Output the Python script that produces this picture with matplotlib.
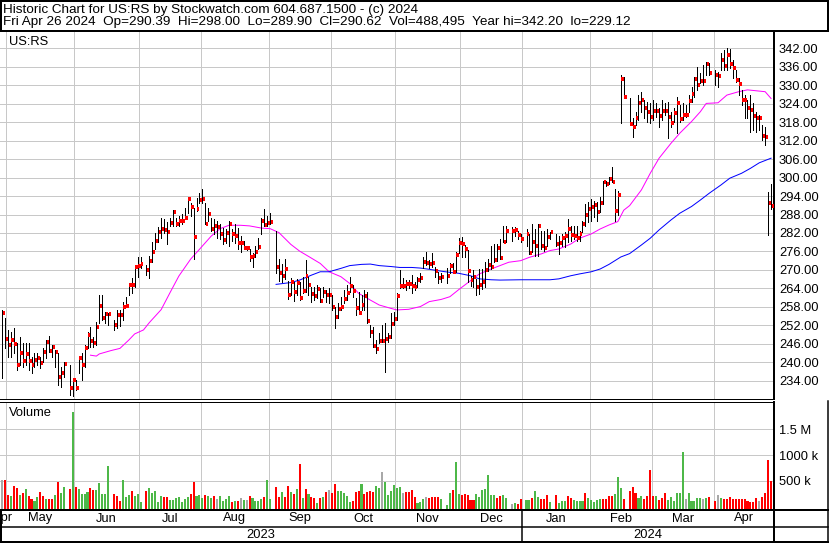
import numpy as np
import pandas as pd
import matplotlib
matplotlib.use("Agg")
import matplotlib.pyplot as plt
from matplotlib.lines import Line2D

plt.rcParams['font.family'] = ['Liberation Sans', 'DejaVu Sans']
plt.rcParams['font.size'] = 9.3

# ---- data ----
holidays = ['2023-05-29', '2023-06-19', '2023-07-04', '2023-09-04', '2023-11-23',
            '2023-12-25', '2024-01-01', '2024-01-15', '2024-02-19', '2024-03-29']

highs = [
    257.0, 254.3,
    250.5, 249.9, 251.0, 246.1, 248.3, 246.1, 246.1, 246.1, 241.8, 242.9, 242.9, 241.8, 244.5, 247.2, 248.5, 245.6,
    243.9, 242.9, 238.6, 240.2, 239.1, 234.8,
    234.2, 242.0, 242.9, 245.6, 249.9, 251.5, 248.3, 253.2, 261.8, 261.8, 256.4, 255.9, 253.7, 257.0, 257.0, 259.7,
    261.3, 265.6, 267.3, 271.3, 274.1,
    274.1, 271.6, 274.5, 279.1, 282.1, 284.0, 287.0, 286.5, 285.6, 287.0, 289.5, 287.0, 287.5, 288.1, 290.2, 293.5,
    291.9, 290.2, 293.5, 295.1,
    296.2, 291.9, 290.2, 287.0, 286.5, 285.9, 284.8, 283.7, 283.2, 285.9, 283.2, 284.8, 283.7, 281.0, 279.4, 277.8,
    276.7, 275.6, 277.8, 280.5, 287.0, 289.7, 287.5,
    288.6, 282.7, 273.5, 272.0, 273.7, 266.5, 267.5, 266.0, 267.0, 266.2, 267.8, 273.2, 267.8, 264.6, 264.6, 265.1,
    264.0, 264.6, 263.5, 264.0,
    261.9, 258.1, 259.2, 261.3, 263.5, 265.1, 267.8, 265.1, 260.8, 262.9, 261.9, 263.5, 262.9, 252.1, 251.6, 247.2,
    249.4, 252.1, 252.6, 249.4, 255.9, 256.4,
    262.4, 270.0, 267.3, 266.7, 266.7, 268.4, 266.2, 267.8, 268.9, 274.3, 275.9, 273.2, 275.4, 271.1, 269.4, 268.9,
    270.5, 272.1, 272.1, 275.9, 280.3,
    280.8, 278.1, 276.5, 268.1, 270.0, 267.0, 270.3, 270.3, 272.5, 273.6, 277.9, 278.4, 278.4, 280.1, 284.4, 284.4,
    283.8, 283.8, 282.8, 281.7,
    283.3, 281.7, 284.9, 283.3, 284.9, 282.8, 282.8, 283.3, 282.2, 281.7, 281.1, 281.7, 282.2, 286.6, 284.4, 284.4,
    284.4, 282.8, 286.0, 291.4, 292.0,
    293.1, 292.5, 292.0, 293.6, 299.0, 299.0, 300.1, 303.3, 296.3, 295.6, 333.3, 332.8, 325.7, 319.2, 321.4, 326.8,
    327.9, 325.2, 324.7, 324.1,
    325.2, 324.1, 322.5, 325.2, 324.1, 324.7, 321.4, 322.5, 326.3, 323.6, 324.1, 323.6, 326.8, 329.5, 332.8, 336.0,
    333.9, 336.6, 337.7, 337.1,
    335.0, 334.4, 340.4, 341.5, 342.2, 341.8, 338.2, 335.0, 332.2, 328.5, 326.8, 325.2, 326.8, 324.1, 321.4, 320.3,
    317.1, 316.5, 295.4, 298.0,
]
lows = [
    235.0, 244.5,
    241.8, 241.8, 242.9, 237.5, 239.1, 238.6, 239.1, 237.5, 236.6, 238.6, 239.1, 238.0, 240.2, 241.3, 243.4, 241.8,
    238.6, 232.6, 232.1, 235.3, 229.4, 229.12,
    231.0, 236.4, 234.2, 238.6, 244.5, 245.1, 245.1, 245.6, 252.6, 253.7, 252.6, 252.1, 250.5, 251.0, 251.8, 253.7,
    258.0, 261.8, 262.4, 264.5, 267.8,
    270.5, 268.3, 267.3, 272.6, 276.7, 279.2, 280.5, 282.1, 278.3, 284.3, 284.3, 284.3, 284.3, 284.8, 286.5, 288.6,
    287.5, 273.5, 289.2, 291.9,
    291.9, 284.8, 285.9, 282.7, 281.6, 280.5, 280.0, 278.3, 278.9, 277.8, 279.4, 278.9, 276.7, 275.8, 276.7, 276.5,
    272.9, 271.1, 274.3, 276.7, 281.6, 284.3, 284.3,
    284.8, 269.1, 266.4, 266.0, 267.0, 260.6, 262.0, 260.0, 262.0, 260.2, 262.4, 262.9, 261.9, 259.7, 260.2, 260.8,
    259.7, 261.3, 259.7, 259.2,
    257.0, 251.0, 254.5, 257.0, 259.2, 260.2, 262.9, 261.3, 255.4, 255.9, 257.0, 257.0, 252.6, 248.3, 245.1, 242.9,
    246.1, 246.5, 236.9, 246.7, 247.8, 252.1,
    253.7, 264.0, 264.0, 263.5, 264.0, 262.4, 263.5, 264.6, 266.2, 270.5, 271.6, 270.5, 271.1, 267.8, 265.6, 266.2,
    265.6, 268.9, 268.9, 269.4, 275.4,
    274.3, 274.3, 266.0, 264.9, 264.5, 262.0, 262.2, 263.8, 264.4, 269.8, 270.3, 272.5, 273.0, 273.6, 279.0, 279.0,
    279.5, 281.1, 280.1, 279.0,
    277.9, 275.2, 275.7, 274.6, 274.6, 276.8, 276.3, 277.9, 280.1, 277.9, 275.2, 277.9, 277.4, 279.0, 279.5, 280.1,
    279.5, 279.5, 282.2, 284.4, 285.5,
    286.0, 287.1, 286.0, 288.7, 291.4, 297.4, 297.9, 298.5, 286.0, 288.0, 317.8, 326.0, 317.0, 313.3, 317.1, 318.7,
    321.4, 319.3, 318.2, 317.6,
    318.7, 319.8, 316.5, 318.7, 320.3, 312.8, 316.5, 318.2, 314.4, 318.2, 318.7, 319.8, 321.4, 324.7, 326.3, 328.5,
    330.6, 330.1, 333.3, 333.3,
    330.1, 329.5, 335.0, 335.0, 335.0, 335.5, 332.2, 331.2, 326.8, 323.6, 319.3, 319.3, 314.9, 315.5, 314.9, 315.5,
    312.2, 310.6, 281.4, 289.9,
]
closes = [
    256.1, 247.6,
    245.7, 247.2, 245.9, 239.2, 243.1, 240.5, 242.7, 240.5, 239.2, 240.7, 241.4, 239.9, 243.3, 246.6, 243.8, 245.1,
    243.3, 235.3, 236.4, 239.4, 231.6, 234.2,
    231.6, 241.4, 239.1, 244.6, 248.9, 247.0, 246.3, 251.6, 258.3, 254.4, 255.7, 255.7, 252.2, 255.5, 255.5, 258.0,
    258.3, 265.2, 265.0, 270.8, 271.3,
    271.9, 270.0, 273.0, 275.7, 279.3, 282.2, 283.2, 283.0, 282.3, 285.4, 288.8, 285.0, 285.9, 285.9, 287.0, 293.0,
    290.5, 280.7, 289.9, 292.7,
    293.2, 285.0, 288.3, 283.2, 284.3, 284.1, 281.6, 279.6, 281.9, 284.8, 281.6, 281.0, 278.7, 278.7, 277.1, 277.1,
    274.2, 274.5, 275.8, 277.5, 285.9, 284.6, 285.4,
    285.6, 271.0, 269.1, 268.0, 270.2, 261.8, 266.2, 262.8, 265.9, 260.8, 263.3, 268.0, 265.2, 262.2, 261.5, 263.9,
    260.0, 262.9, 262.0, 262.0,
    258.1, 254.8, 257.4, 258.1, 260.5, 262.4, 264.8, 263.0, 257.6, 256.1, 258.7, 261.5, 253.5, 249.8, 245.3, 244.4,
    247.0, 247.0, 247.5, 248.1, 252.4, 254.2,
    261.5, 264.8, 264.8, 265.4, 265.4, 264.8, 264.3, 266.7, 267.4, 272.7, 272.1, 271.9, 272.1, 269.8, 267.4, 267.6,
    268.0, 271.3, 269.3, 274.9, 278.6,
    278.4, 276.7, 269.5, 266.8, 267.7, 264.5, 265.0, 266.2, 270.1, 271.5, 270.9, 273.3, 277.2, 274.0, 279.2, 282.7,
    282.8, 283.1, 281.4, 280.1,
    281.6, 275.6, 279.2, 277.9, 284.4, 277.7, 277.2, 280.6, 282.2, 278.5, 278.8, 280.3, 281.1, 283.3, 281.4, 280.9,
    280.3, 281.6, 285.0, 288.0, 289.8,
    290.5, 291.0, 288.7, 291.8, 298.5, 297.8, 299.6, 298.7, 289.0, 294.5, 332.1, 326.3, 317.4, 316.3, 319.2, 324.1,
    325.2, 322.5, 321.4, 319.8,
    321.7, 321.7, 320.0, 321.7, 321.7, 319.8, 317.8, 321.1, 324.1, 319.1, 320.3, 320.4, 325.0, 327.0, 331.9, 330.2,
    331.5, 331.3, 336.9, 334.1,
    333.2, 333.0, 338.2, 336.3, 339.9, 336.9, 335.6, 331.7, 330.4, 325.2, 325.2, 322.6, 322.0, 320.0, 319.4, 319.4,
    313.5, 313.3, 291.9, 290.62,
]
# volume in thousands of shares
volume_k = [
    520, 520,
    228, 209, 403, 364, 228, 260, 338, 209, 144, 111, 189, 286, 209, 157, 150, 150, 222, 481, 273, 384, 338, 1843,
    384, 338, 241, 254, 286, 364, 325, 325, 455, 254, 250, 792, 241, 209, 111, 520, 196, 222, 306, 209, 254,
    92, 306, 364, 273, 306, 92, 209, 196, 189, 131, 131, 176, 196, 92, 144, 196, 247, 481, 209, 228,
    176, 235, 209, 170, 209, 144, 209, 105, 144, 209, 92, 111, 111, 170, 131, 131, 209, 170, 105, 105, 157, 196, 520,
    150, 390, 196, 286, 196, 403, 286, 247, 338, 831, 176, 351, 241, 196, 176, 79, 176, 196, 286, 319,
    273, 442, 306, 306, 273, 209, 92, 111, 286, 306, 435, 247, 286, 306, 286, 403, 358, 676, 481, 222, 306, 416,
    370, 390, 273, 286, 286, 325, 196, 79, 92, 144, 196, 176, 196, 196, 196, 157, 40, 273, 325, 857, 254,
    228, 247, 222, 131, 131, 254, 196, 319, 351, 617, 235, 235, 176, 209, 228, 176, 59, 79, 59, 157,
    131, 131, 176, 306, 196, 157, 157, 222, 92, 228, 79, 111, 111, 209, 170, 131, 105, 105, 105, 273, 176,
    131, 92, 131, 157, 157, 157, 209, 209, 254, 578, 370, 144, 306, 390, 273, 176, 209, 144, 209, 714,
    209, 209, 124, 176, 260, 131, 196, 111, 260, 260, 1064, 144, 273, 105, 105, 176, 170, 144, 170, 189,
    111, 222, 170, 144, 144, 189, 144, 144, 144, 144, 144, 105, 92, 92, 176, 111, 189, 273, 909, 488,
]
# volume bar colour per day (u = up, d = down, n = unchanged), grouped by week
volume_dir = ("nd "
              "duddu duddu uddud duduu du "
              "du uuudd uuuuu dddu uuduu "
              "u duu uuudd uuuuu uuddu u "
              "uduu dnuuu ududn unduu uudu "
              "u ddud dudud ududd ududn "
              "dduuu uuddd udddd uunuu uu "
              "uun ddddu uundd ddu u uduu "
              "d ddddu uuuuu udduu nudd "
              "uudu udddu duuu dduuu udu "
              "uu uuddd duuud dddu uddd "
              "d udddu uuuuu nuuuu unud "
              "dnudd ddddd ddddd ndddd").replace(" ", "")

# moving averages (weekday number since 2023-04-27, value)
fast_ma_day = [30, 32, 33, 37, 40, 43, 45, 48, 50, 54, 57, 60, 64, 67, 71, 74, 77, 81, 84, 88, 91, 94, 98, 101,
               104, 108, 111, 115, 118, 121, 125, 128, 132, 134, 138, 142, 145, 149, 152, 155, 159, 162, 166, 169,
               172, 176, 179, 183, 186, 189, 193, 196, 200, 203, 206, 209, 211, 213, 217, 220, 223, 227, 230, 234,
               237, 239, 243, 246, 250, 253, 256, 259, 261]
fast_ma = [242.3, 242.0, 242.7, 243.8, 244.5, 247.2, 249.2, 250.5, 252.9, 257.1, 262.6, 268.0, 273.5, 276.7,
           281.0, 283.4, 284.5, 284.5, 284.3, 283.6, 283.4, 282.1, 278.3, 276.1, 274.4, 272.1, 269.4, 267.8,
           265.6, 262.4, 260.2, 258.6, 257.5, 257.0, 257.2, 258.1, 259.7, 260.4, 261.3, 263.6, 266.5, 268.7,
           270.3, 271.4, 272.5, 273.0, 274.1, 275.2, 276.3, 276.8, 278.4, 280.3, 281.7, 283.3, 284.6, 285.7,
           289.4, 290.9, 296.0, 301.4, 306.3, 311.1, 314.4, 318.2, 321.4, 324.1, 324.3, 326.8, 327.9, 328.5,
           328.2, 327.9, 325.7]
slow_ma_day = [93, 98, 101, 105, 108, 111, 115, 118, 122, 125, 128, 132, 135, 139, 142, 145, 149, 152, 155, 159,
               162, 166, 169, 176, 183, 186, 189, 193, 196, 200, 203, 206, 210, 213, 217, 220, 223, 227, 230, 234,
               237, 240, 244, 247, 251, 254, 257, 261]
slow_ma = [265.3, 265.9, 266.7, 268.3, 269.4, 269.4, 270.5, 271.4, 271.8, 271.9, 271.4, 271.1, 270.8, 270.8,
           270.6, 270.2, 269.6, 269.2, 268.9, 268.1, 267.1, 266.8, 266.7, 266.8, 266.8, 266.8, 267.1, 268.1,
           268.7, 269.4, 270.3, 271.8, 274.2, 275.3, 278.1, 280.3, 283.0, 286.2, 288.4, 290.6, 292.7, 294.9,
           297.6, 299.8, 301.4, 303.0, 304.8, 306.3]

price_ticks = list(range(234, 343, 6))
volume_ticks = [500000, 1000000, 1500000]
volume_labels = ['500 k', '1000 k', '1.5 M']
month_names = ['Apr', 'May', 'Jun', 'Jul', 'Aug', 'Sep', 'Oct', 'Nov', 'Dec', 'Jan', 'Feb', 'Mar', 'Apr']
year_names = ['2023', '2024']
title = 'Historic Chart for US:RS by Stockwatch.com 604.687.1500 - (c) 2024'
quote = ('Fri Apr 26 2024  Op=290.39  Hi=298.00  Lo=289.90  Cl=290.62  Vol=488,495  '
         'Year hi=342.20  lo=229.12')

# ---- calendar ----
weekdays = pd.bdate_range('2023-04-27', '2024-04-26')
trade_days = weekdays[~weekdays.isin(pd.to_datetime(holidays))]
x = weekdays.get_indexer(trade_days).astype(float)
n = len(x)
assert len(highs) == n and len(lows) == n and len(closes) == n, (len(highs), len(lows), len(closes), n)
assert len(volume_k) == n and len(volume_dir) == n, (len(volume_k), len(volume_dir), n)

month_start = [i for i in range(1, len(weekdays)) if weekdays[i].month != weekdays[i - 1].month]
grid_x = [i - 0.5 for i in month_start]
year_start = [i for i in month_start if weekdays[i].month == 1][0] - 0.5

# ---- figure ----
W, H = 830, 543
PX = 0.72  # one pixel in points at dpi 100
fig = plt.figure(figsize=(W / 100, H / 100), dpi=100)


def box(l, t, r, b):
    return fig.add_axes([l / W, 1 - b / H, (r - l) / W, (b - t) / H])


XL = (-0.7, 262.0)
GRID = '#c8c8c8'
INK = '#000000'

# price panel
ax = box(0, 32, 774, 399)
ax.set_xlim(*XL)
ax.set_ylim(228.06, 347.3)
for v in price_ticks:
    ax.axhline(v, color=GRID, lw=PX, zorder=0)
for g in grid_x:
    ax.axvline(g, color=GRID, lw=PX, zorder=0)
ax.vlines(x, lows, highs, color='black', lw=PX, antialiased=False, zorder=3)
ax.hlines(closes, x + 0.2, x + 1.0, color='#ff0000', lw=PX * 2.2, antialiased=False, zorder=4)
ax.plot(fast_ma_day, fast_ma, color='#ff00ff', lw=PX, zorder=2)
ax.plot(slow_ma_day, slow_ma, color='#0000ff', lw=PX, zorder=2)
ax.yaxis.tick_right()
ax.set_yticks(price_ticks)
ax.set_yticklabels([f'{v:.2f}' for v in price_ticks])
ax.tick_params(axis='y', length=0, pad=3.6, labelsize=9.3, labelcolor=INK)
ax.set_xticks([])
for s in ['left', 'top']:
    ax.spines[s].set_visible(False)
ax.spines['right'].set_linewidth(PX * 2)
ax.spines['bottom'].set_linewidth(PX)
ax.text(9 / 774, 1 - 10 / 367, 'US:RS', transform=ax.transAxes, va='center', ha='left')

# volume panel
vmin = -64000
av = box(0, 401.5, 774, 510)
av.set_xlim(*XL)
av.set_ylim(vmin, 2037000)
for v in volume_ticks:
    av.axhline(v, color=GRID, lw=PX, zorder=0)
for g in grid_x:
    av.axvline(g, color=GRID, lw=PX, zorder=0)
dir_color = {'u': '#4db848', 'd': '#ff0000', 'n': '#a8a8a8'}
vol = np.array(volume_k) * 1000.0
av.bar(x, vol - vmin, bottom=vmin, width=0.7, color=[dir_color[c] for c in volume_dir],
       linewidth=0, antialiased=False, zorder=2)
av.yaxis.tick_right()
av.set_yticks(volume_ticks)
av.set_yticklabels(volume_labels)
av.tick_params(axis='y', length=0, pad=3.6, labelsize=9.3, labelcolor=INK)
av.set_xticks([])
av.spines['left'].set_visible(False)
av.spines['top'].set_linewidth(PX)
av.spines['right'].set_linewidth(PX * 2)
av.spines['bottom'].set_linewidth(PX * 2)
av.text(9 / 774, 1 - 12 / 108.5, 'Volume', transform=av.transAxes, va='center', ha='left')

# month row (the first label is cut by the left edge, as on the original)
am = box(0, 510, 774, 527)
am.set_xlim(*XL)
am.set_ylim(0, 1)
am.axis('off')
bounds = [XL[0]] + grid_x + [XL[1]]
for name, a, b in zip(month_names, bounds[:-1], bounds[1:]):
    am.text((a + b) / 2, 0.5, name, ha='center', va='center', clip_on=True)
am.plot([year_start, year_start], [0, 1], color='black', lw=PX * 1.5)

# year row
ay = box(0, 527, 774, 542)
ay.set_xlim(*XL)
ay.set_ylim(0, 1)
ay.axis('off')
for name, a, b in zip(year_names, [XL[0], year_start], [year_start, XL[1]]):
    ay.text((a + b) / 2, 0.45, name, ha='center', va='center')
ay.plot([year_start, year_start], [0, 1], color='black', lw=PX * 1.5)

# header and frame lines
fig.text(3 / W, 1 - 9.5 / H, title, ha='left', va='center', fontsize=9.7)
fig.text(3 / W, 1 - 22.5 / H, quote, ha='left', va='center', fontsize=9.7)


def fline(x0, y0, x1, y1, w):
    fig.add_artist(Line2D([x0 / W, x1 / W], [1 - y0 / H, 1 - y1 / H], color='black', lw=w * PX,
                          transform=fig.transFigure))


fline(0, 1, 828, 1, 2)
fline(0, 31, 828, 31, 2)
fline(1, 0, 1, 31, 2)
fline(827.5, 0, 827.5, 31, 2)
fline(0, 510, 828, 510, 2)
fline(0, 527, 828, 527, 1.5)
fline(0, 541.5, 828, 541.5, 2)
fline(1, 510, 1, 542, 2)
fline(827.5, 401, 827.5, 542, 1.5)
fline(774, 510, 774, 542, 2)

fig.savefig('out.png', dpi=100)
